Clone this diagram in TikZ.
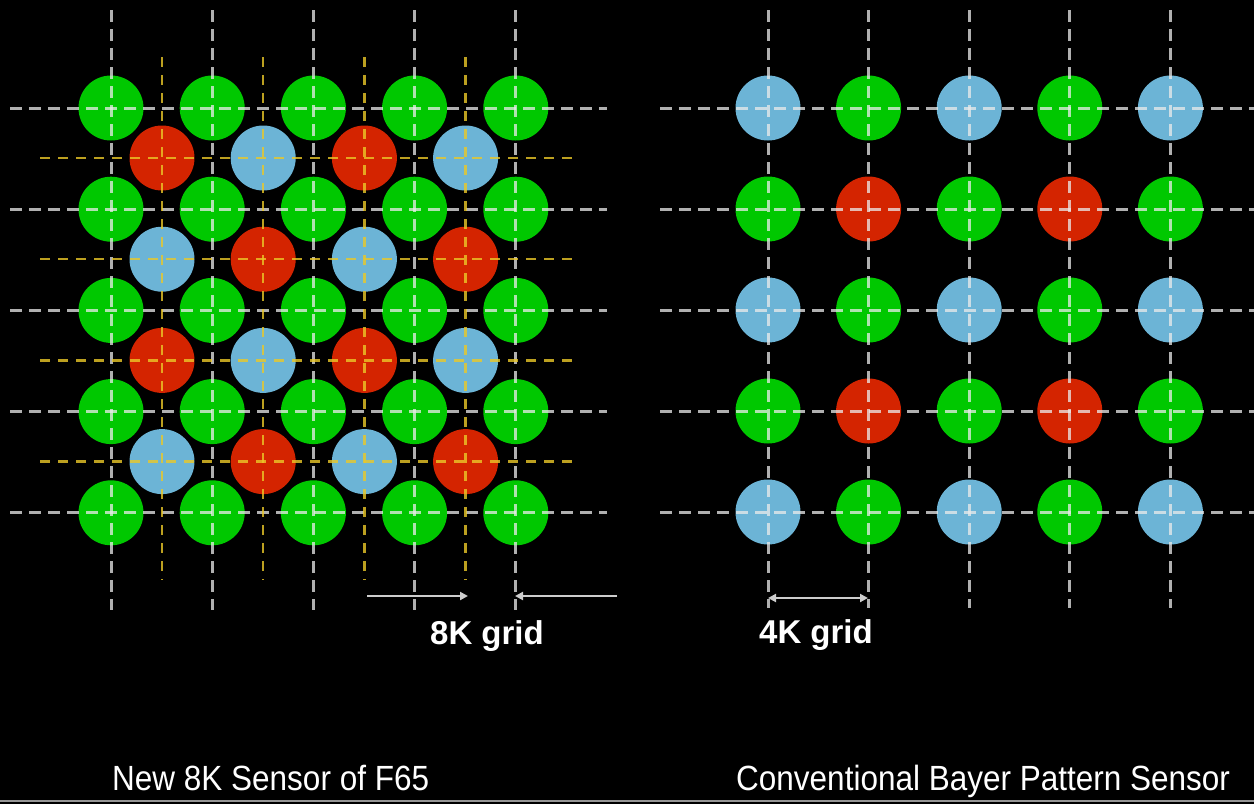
\documentclass[tikz,border=0pt]{standalone}
\usepackage{fontspec}
\setmainfont{Liberation Sans}
\usetikzlibrary{arrows.meta}
\definecolor{pixgreen}{RGB}{0,200,0}
\definecolor{pixred}{RGB}{212,36,0}
\definecolor{pixblue}{RGB}{108,180,214}
\definecolor{gridwhite}{RGB}{235,235,235}
\definecolor{gridyellow}{RGB}{235,200,40}
\definecolor{arrowgrey}{RGB}{205,205,205}
\definecolor{rulegrey}{RGB}{150,150,150}
\begin{document}
\begin{tikzpicture}[x=1pt,y=-1pt,
  pix/.style={circle,minimum size=65pt,inner sep=0pt,draw=none},
  wline/.style={draw=gridwhite,draw opacity=0.75,line width=3pt,dash pattern=on 12pt off 7pt},
  yline/.style={draw=gridyellow,draw opacity=0.8,line width=2.5pt,dash pattern=on 10pt off 8pt},
  dimarrow/.style={draw=arrowgrey,line width=2pt},
  tip/.tip={Triangle[length=8pt,width=8pt]},
  gridlbl/.style={text=white,font=\fontsize{33}{40}\selectfont\bfseries,inner sep=0pt,anchor=base},
  caption/.style={text=white,font=\fontsize{35}{42}\selectfont,inner sep=0pt,anchor=base west}
]
\fill[black] (0,0) rectangle (1254,804);
\useasboundingbox (0,0) rectangle (1254,804);

% ---------- left panel: new 8K sensor ----------
\foreach \i in {0,...,4}{
  \foreach \j in {0,...,4}{
    \node[pix,fill=pixgreen] (L-g-\i-\j) at ({111+101.2*\i},{108+101.2*\j}) {};
  }
}
\foreach \i in {0,...,3}{
  \foreach \j in {0,...,3}{
    \ifodd\numexpr\i+\j\relax \def\pc{pixblue}\else\def\pc{pixred}\fi
    \node[pix,fill=\pc] (L-c-\i-\j) at ({162+101.2*\i},{158+101.2*\j}) {};
  }
}
% white grid (8K green sites)
\foreach \i in {0,...,4}{
  \draw[wline] ({111+101.2*\i},10) -- ({111+101.2*\i},610);
  \draw[wline] (10,{108+101.2*\i}) -- (607,{108+101.2*\i});
}
% yellow grid (red/blue sites)
\foreach \i in {0,...,3}{
  \draw[yline] ({162+101.2*\i},57) -- ({162+101.2*\i},580);
  \draw[yline] (40,{158+101.2*\i}) -- (573,{158+101.2*\i});
}

% ---------- right panel: Bayer sensor ----------
\foreach \i in {0,...,4}{
  \foreach \j in {0,...,4}{
    \ifodd\j
      \ifodd\i \def\pc{pixred}\else\def\pc{pixgreen}\fi
    \else
      \ifodd\i \def\pc{pixgreen}\else\def\pc{pixblue}\fi
    \fi
    \node[pix,fill=\pc] (R-\i-\j) at ({768+100.6*\i},{108+101*\j}) {};
  }
}
\foreach \i in {0,...,4}{
  \draw[wline] ({768+100.6*\i},10) -- ({768+100.6*\i},608);
  \draw[wline] (660,{108+101*\i}) -- (1254,{108+101*\i});
}

% ---------- dimension arrows ----------
\coordinate (a8l-s) at (367,596);
\coordinate (a8l-e) at (468,596);
\coordinate (a8r-s) at (617,596);
\coordinate (a8r-e) at (515,596);
\coordinate (a4-s) at (768,598);
\coordinate (a4-e) at (868,598);
\draw[dimarrow,-tip] (a8l-s) -- (a8l-e);
\draw[dimarrow,-tip] (a8r-s) -- (a8r-e);
\draw[dimarrow,tip-tip] (a4-s) -- (a4-e);

\node[gridlbl] (lbl8) at (487,644) {8K grid};
\node[gridlbl] (lbl4) at (816,643) {4K grid};

% ---------- captions ----------
\node[caption] (cap-left) at (112,790) {\scalebox{0.9}[1]{New 8K Sensor of F65}};
\node[caption] (cap-right) at (736,790) {\scalebox{0.9}[1]{Conventional Bayer Pattern Sensor}};

\coordinate (rule-l) at (0,801);
\coordinate (rule-r) at (1254,801);
\draw[rulegrey,line width=2pt] (rule-l) -- (rule-r);
\end{tikzpicture}
\end{document}
